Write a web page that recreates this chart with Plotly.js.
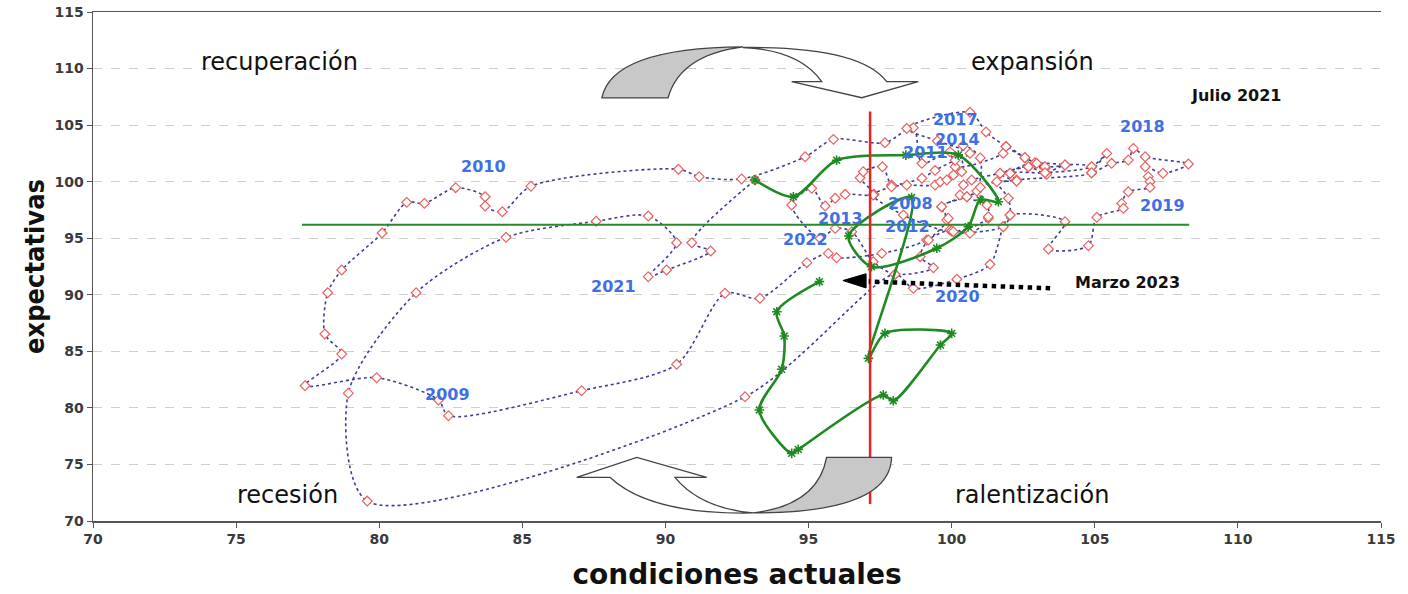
<!DOCTYPE html>
<html>
<head>
<meta charset="utf-8">
<script src="https://cdn.plot.ly/plotly-3.0.1.min.js"></script>
<style>html,body{margin:0;padding:0;background:#fff;}#chart{width:1408px;height:594px;}</style>
</head>
<body>
<div id="chart"></div>
<script>
// ---- data: monthly path of the cycle clock (blue) ----
const blueX = [
  100.53, 99.65, 99.83, 99.13, 97.56, 95.98, 95.69, 94.94, 93.3, 92.08, 90.39, 87.07,
  82.42, 82.07, 79.91, 77.41, 78.69, 78.1, 78.2, 78.69, 80.1, 80.96, 81.58, 82.67,
  83.7, 83.7, 84.3, 85.3, 90.45, 91.18, 92.66, 94.88, 95.87, 97.67, 98.66, 98.96,
  99.94, 100.12, 101.8, 101.9, 102.56, 103.26, 103.32, 102.68, 101.69, 100.7, 100.41, 100.29,
  101.23, 101.28, 100.64, 99.94, 99.19, 98.9, 99.36, 98.02, 97.26, 96.51, 95.93, 95.4,
  94.41, 95.11, 95.58, 95.93, 96.28, 97.29, 96.8, 96.91, 97.58, 97.9, 98.43, 99.42,
  99.6, 99.83, 100.06, 100.35, 100.4, 101.0, 100.88, 100.53, 99.65, 99.88, 100.0, 101.8,
  102.04, 101.98, 101.58, 102.27, 102.04, 102.91, 103.26, 103.96, 104.89, 104.89, 102.27, 101.0,
  101.28, 100.06, 98.31, 97.26, 97.9, 98.96, 99.42, 100.12, 100.64, 99.5, 98.43, 100.64,
  101.2, 101.9, 102.56, 103.26, 103.96, 102.97, 102.68, 101.69, 102.27, 102.04, 103.26, 104.89,
  105.42, 104.89, 105.59, 106.17, 106.35, 106.76, 108.27, 107.38, 106.76, 106.87, 106.93, 106.93,
  106.17, 105.94, 106.0, 105.07, 104.78, 103.38, 103.96, 102.04, 101.8, 101.34, 100.18, 98.66,
  98.02, 92.78, 79.58, 78.92, 81.29, 84.43, 87.58, 89.4, 90.39,
  89.4, 90.04, 91.58, 90.92, 93.13
];
const blueY = [
  98.67, 97.79, 96.6, 94.84, 93.66, 93.28, 93.66, 92.84, 89.69, 90.13, 83.85, 81.52,
  79.31, 80.7, 82.67, 81.96, 84.76, 86.53, 90.18, 92.19, 95.46, 98.17, 98.08, 99.47,
  98.67, 97.85, 97.34, 99.6, 101.1, 100.44, 100.24, 102.2, 103.74, 103.44, 104.77, 101.62,
  102.65, 101.32, 102.5, 103.1, 102.12, 101.18, 100.65, 101.32, 100.74, 100.15, 99.7, 98.82,
  97.94, 96.76, 95.43, 95.73, 94.84, 93.37, 92.39, 91.81, 92.92, 95.58, 95.87, 95.0,
  97.94, 99.41, 97.85, 98.53, 98.88, 98.88, 100.35, 100.88, 101.32, 99.7, 99.7, 99.7,
  99.99, 100.15, 100.59, 100.88, 103.2, 102.1, 99.17, 98.67, 97.79, 96.76, 95.64, 96.02,
  97.05, 98.53, 99.99, 100.06, 100.74, 101.68, 100.79, 101.47, 101.32, 100.79, 100.15, 99.5,
  96.9, 95.58, 97.05, 98.82, 99.55, 100.3, 101.0, 101.9, 102.5, 103.6, 104.7, 106.13,
  104.4, 103.1, 102.12, 101.32, 101.47, 101.62, 101.32, 100.74, 100.06, 100.74, 100.79, 101.32,
  102.5, 100.79, 101.62, 101.91, 102.94, 102.2, 101.56, 100.74, 101.32, 100.44, 99.99, 99.5,
  99.11, 98.08, 97.64, 96.85, 94.34, 94.05, 96.46, 97.05, 96.02, 92.69, 91.37, 90.57,
  91.81, 80.98, 71.76, 81.3, 90.18, 95.08, 96.5, 96.96, 94.6,
  91.6, 92.19, 93.87, 94.6, 100.15
];
// ---- data: recent path Julio 2021 -> Marzo 2023 (green) ----
const greenX = [93.13, 94.47, 95.98, 98.4, 100.23, 101.63, 101.0, 100.58, 99.48, 97.2, 96.4, 98.6,
  97.09, 97.67, 100.0, 99.61, 97.96, 97.61, 94.64, 94.41, 93.28, 94.06, 94.15, 93.89, 95.38];
const greenY = [100.15, 98.67, 101.9, 102.35, 102.36, 98.23, 98.38, 96.02, 94.11, 92.48, 95.2, 98.6,
  84.38, 86.59, 86.59, 85.56, 80.63, 81.14, 76.33, 75.98, 79.81, 83.41, 86.35, 88.5, 91.16];
// reference levels
const avgCond = 97.15;   // average of current conditions (red line)
const avgExp = 96.2;     // average of expectations (green line)
// year labels
const yearText = ["2010","2009","2021","2022","2013","2012","2008","2011","2014","2017","2018","2019","2020"];
const yearX = [83.63, 82.4, 88.17, 94.88, 96.1, 98.44, 98.55, 99.1, 100.22, 100.12, 106.65, 107.35, 100.22];
const yearY = [101.3, 81.2, 90.77, 94.93, 96.7, 96.08, 98.1, 102.6, 103.7, 105.5, 104.9, 97.85, 89.89];
// quadrant labels
const quadText = ["recuperación", "expansión", "recesión", "ralentización"];
const quadX = [76.5, 102.81, 76.81, 102.81];
const quadY = [110.58, 110.58, 72.3, 72.3];
const tickVals = [70, 75, 80, 85, 90, 95, 100, 105, 110, 115];

const traces = [
  {
    x: blueX, y: blueY, type: 'scatter', mode: 'lines+markers',
    line: {color: '#3b3f96', width: 1.6, dash: 'dot', shape: 'spline', smoothing: 0.8},
    marker: {symbol: 'diamond', size: 7.5, color: '#ffffff', line: {color: '#e8625f', width: 1.2}},
    hoverinfo: 'x+y'
  },
  {
    x: greenX, y: greenY, type: 'scatter', mode: 'lines+markers',
    line: {color: '#1f8a22', width: 2.6, shape: 'spline', smoothing: 0.8},
    marker: {symbol: 'asterisk-open', size: 8, line: {color: '#a9905a', width: 1.6}},
    hoverinfo: 'x+y'
  }
];

const shapes = [
  // average lines
  {type: 'line', xref: 'x', yref: 'y', x0: 77.3, x1: 108.3, y0: avgExp, y1: avgExp, line: {color: '#2a8a2a', width: 2}},
  {type: 'line', xref: 'x', yref: 'y', x0: avgCond, x1: avgCond, y0: 71.5, y1: 106.2, line: {color: '#e5231f', width: 2.5}},
  // top curved arrow (recuperación -> expansión)
  {type: 'path', xref: 'x', yref: 'y', layer: 'above',
   path: 'M 87.78 107.40 Q 88.13 111.82 92.71 111.91 Q 90.51 111.20 90.09 107.40 Z',
   fillcolor: '#c8c8c8', line: {color: '#444', width: 1.3}},
  {type: 'path', xref: 'x', yref: 'y', layer: 'above',
   path: 'M 92.71 111.86 Q 96.80 111.99 97.73 108.84 L 98.83 108.84 L 96.86 107.42 L 94.41 108.84 L 95.46 108.84 Q 94.70 111.64 92.71 111.86 Z',
   fillcolor: 'rgba(255,255,255,1)', line: {color: '#444', width: 1.3}},
  // bottom curved arrow (ralentización -> recesión)
  {type: 'path', xref: 'x', yref: 'y', layer: 'above',
   path: 'M 88.06 73.86 Q 89.46 70.53 93.06 70.71 Q 91.21 71.15 90.33 73.86 L 91.44 73.86 L 89.00 75.63 L 86.90 73.86 Z',
   fillcolor: 'rgba(255,255,255,1)', line: {color: '#444', width: 1.3}},
  {type: 'path', xref: 'x', yref: 'y', layer: 'above',
   path: 'M 93.06 70.71 Q 97.85 70.71 97.90 75.63 L 95.63 75.63 Q 95.33 71.41 93.06 70.71 Z',
   fillcolor: '#c8c8c8', line: {color: '#444', width: 1.3}},
  // dotted pointer to Marzo 2023
  {type: 'line', xref: 'x', yref: 'y', x0: 103.44, y0: 90.58, x1: 97.1, y1: 91.17, line: {color: '#000', width: 4.5, dash: 'dot'}},
  {type: 'path', xref: 'x', yref: 'y', path: 'M 96.2 91.26 L 97.01 91.86 L 97.01 90.6 Z', fillcolor: '#000', line: {color: '#000', width: 1}}
];

const annotations = [];
for (let i = 0; i < yearText.length; i++) {
  annotations.push({x: yearX[i], y: yearY[i], xref: 'x', yref: 'y', text: yearText[i], showarrow: false,
    font: {family: 'DejaVu Sans, Arial, sans-serif', size: 16, color: '#3f6fe6', weight: 'bold'}});
}
for (let i = 0; i < quadText.length; i++) {
  annotations.push({x: quadX[i], y: quadY[i], xref: 'x', yref: 'y', text: quadText[i], showarrow: false,
    font: {family: 'DejaVu Sans, Arial, sans-serif', size: 24, color: '#111'}});
}
annotations.push({x: 109.93, y: 107.66, xref: 'x', yref: 'y', text: '<b>Julio 2021</b>', showarrow: false,
  font: {family: 'DejaVu Sans, Arial, sans-serif', size: 16, color: '#111'}});
annotations.push({x: 106.16, y: 91.13, xref: 'x', yref: 'y', text: '<b>Marzo 2023</b>', showarrow: false,
  font: {family: 'DejaVu Sans, Arial, sans-serif', size: 16, color: '#111'}});

const tickFont = {family: 'DejaVu Sans, Arial, sans-serif', size: 14, color: '#3a3a3a', weight: 'bold'};

const layout = {
  width: 1408, height: 594,
  margin: {l: 93, r: 27, t: 12, b: 73},
  paper_bgcolor: '#ffffff', plot_bgcolor: '#ffffff',
  showlegend: false,
  xaxis: {
    range: [70, 115], tickvals: tickVals, ticktext: tickVals.map(String),
    showgrid: false, zeroline: false, showline: true, mirror: true, linecolor: '#555', linewidth: 1.5,
    ticks: 'outside', ticklen: 5, tickcolor: '#555', tickfont: tickFont,
    title: {text: '<b>condiciones actuales</b>', standoff: 18,
      font: {family: 'DejaVu Sans, Arial, sans-serif', size: 28, color: '#111'}}
  },
  yaxis: {
    range: [70, 115], tickvals: tickVals, ticktext: tickVals.map(String),
    showgrid: true, gridcolor: '#cfcfcf', griddash: 'dash', gridwidth: 1,
    zeroline: false, showline: true, linecolor: '#555', linewidth: 1.5,
    ticks: 'outside', ticklen: 5, tickcolor: '#555', tickfont: tickFont,
    title: {text: '<b>expectativas</b>', standoff: 2,
      font: {family: 'DejaVu Sans Condensed, Liberation Sans Narrow, DejaVu Sans, sans-serif', size: 27, color: '#111'}}
  },
  shapes: shapes,
  annotations: annotations
};

Plotly.newPlot('chart', traces, layout, {displayModeBar: false, staticPlot: true});
</script>
</body>
</html>
